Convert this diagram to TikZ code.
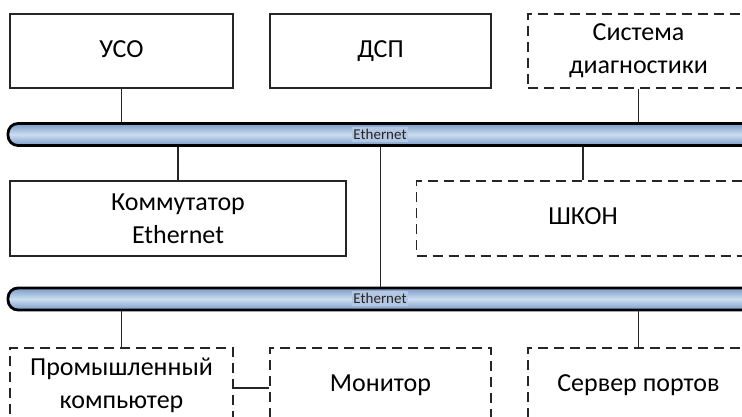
\documentclass[tikz,border=0pt]{standalone}
\usepackage{fontspec}
\setmainfont{Carlito}
\definecolor{busdark}{RGB}{120,155,200}
\definecolor{buslight}{RGB}{205,221,240}
\definecolor{labfill}{RGB}{180,200,228}
\begin{document}
\begin{tikzpicture}[x=1pt,y=-1pt,
  box/.style={draw=black!85, line width=1.4pt, inner sep=0pt, align=center, font=\fontsize{26}{33}\selectfont},
  one/.style={text height=18pt, text depth=6pt},
  dbox/.style={box, dash pattern=on 10pt off 6pt},
  bus/.style={draw=black, line width=2.8pt, rounded corners=10pt, top color=busdark, bottom color=busdark, middle color=buslight, inner sep=0pt},
  buslabel/.style={font=\fontsize{15}{15}\selectfont, text=black!85, fill=labfill, inner sep=1pt, minimum height=15pt},
  conn/.style={draw=black!85, line width=1.4pt}]
\useasboundingbox (0,0) rectangle (742,416);
\clip (0,0) rectangle (742,416);
% top row
\node[box, one, minimum width=223, minimum height=74] (uso) at (121.5,51) {УСО};
\node[box, one, minimum width=221, minimum height=74] (dsp) at (380.5,51) {ДСП};
\node[dbox, minimum width=221, minimum height=74] (diag) at (638.5,51) {Система\\диагностики};
% buses
\node[bus, minimum width=754, minimum height=22] (bus1) at (385,134.5) {};
\node[buslabel] (lab1) at (380,134) {Ethernet};
\node[bus, minimum width=754, minimum height=22] (bus2) at (385,299) {};
\node[buslabel] (lab2) at (380,298.5) {Ethernet};
% middle row
\node[box, minimum width=336, minimum height=75] (komm) at (178,218.5) {Коммутатор\\Ethernet};
\node[dbox, one, minimum width=333, minimum height=75] (shkon) at (583,218.5) {ШКОН};
% bottom row
\node[dbox, minimum width=223, minimum height=74] (pc) at (121.5,385) {Промышленный\\компьютер};
\node[dbox, one, minimum width=221, minimum height=74] (mon) at (380.5,385) {Монитор};
\node[dbox, one, minimum width=221, minimum height=74] (srv) at (638.5,385) {Сервер портов};
% connectors
\draw[conn] (uso.south) -- (uso.south |- bus1.north);
\draw[conn] (diag.south) -- (diag.south |- bus1.north);
\draw[conn] (komm.north) -- (komm.north |- bus1.south);
\draw[conn] (shkon.north) -- (shkon.north |- bus1.south);
\draw[conn] (dsp.south |- bus1.south) -- (dsp.south |- bus2.north);
\draw[conn] (pc.north) -- (pc.north |- bus2.south);
\draw[conn] (srv.north) -- (srv.north |- bus2.south);
\draw[conn] ([yshift=-3pt]pc.east) -- ([yshift=-3pt]mon.west);
\end{tikzpicture}
\end{document}
